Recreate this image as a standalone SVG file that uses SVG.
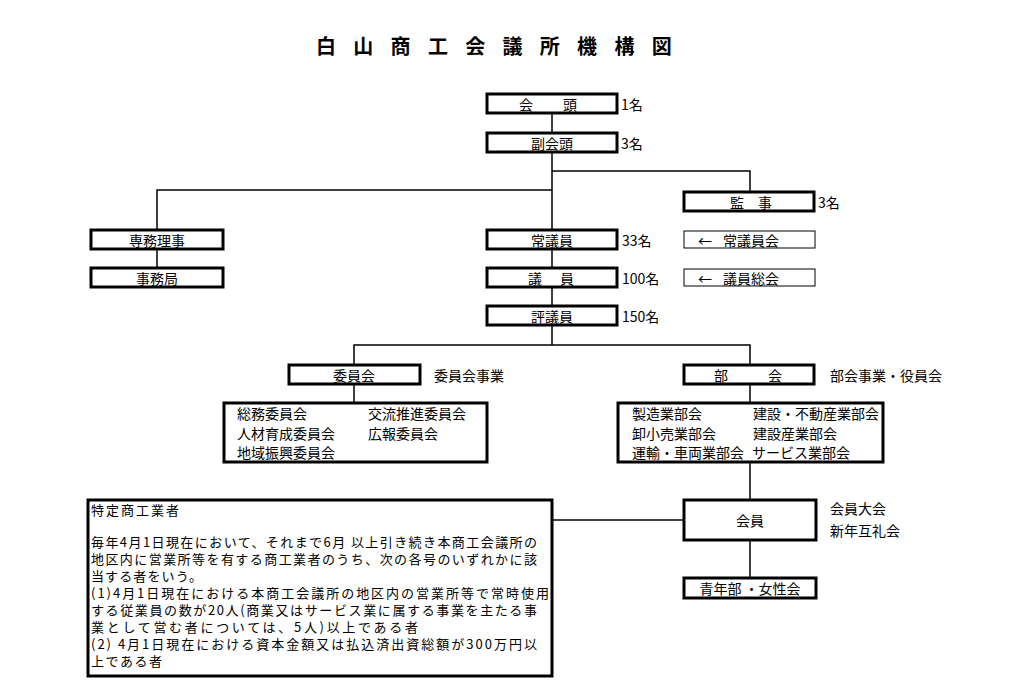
<svg xmlns="http://www.w3.org/2000/svg" width="1024" height="697" viewBox="0 0 1024 697">
<style>
text{font-family:"Noto Sans CJK JP","Noto Sans",sans-serif;font-size:14px;fill:#000;dominant-baseline:central}
.b{fill:#fff;stroke:#000;stroke-width:3}
.t{fill:#fff;stroke:#000;stroke-width:1}
.c{text-anchor:middle}
.l{fill:none;stroke:#000;stroke-width:1.5}
.title{font-size:20px;font-weight:bold;letter-spacing:17.3px}
.p{font-size:13px}
</style>
<rect width="1024" height="697" fill="#fff"/>
<text class="title" x="316" y="45">白山商工会議所機構図</text>
<g id="connectors">
<path class="l" d="M552 113V133M552 152V230M552 249V268M552 288V306M552 326V345"/>
<path class="l" d="M552 171H750V192"/>
<path class="l" d="M552 190H157V230M157 249V268"/>
<path class="l" d="M354 365V345H750V365"/>
<path class="l" d="M354 384V403M750 384V403M750 462V500M750 540V578"/>
<path class="l" d="M552 520H684"/>
</g>
<g id="kaito"><rect class="b" x="487" y="94" width="130" height="19"/><text class="c" x="552" y="104" style="letter-spacing:8px">会　頭</text><text x="621" y="104">1名</text></g>
<g id="fukukaito"><rect class="b" x="487" y="133" width="130" height="19"/><text class="c" x="552" y="143">副会頭</text><text x="621" y="143">3名</text></g>
<g id="kanji"><rect class="b" x="684" y="192" width="130" height="19"/><text class="c" x="751" y="202">監　事</text><text x="818" y="202">3名</text></g>
<g id="senmu"><rect class="b" x="91" y="230" width="132" height="19"/><text class="c" x="157" y="240">専務理事</text></g>
<g id="jimukyoku"><rect class="b" x="91" y="268" width="132" height="19"/><text class="c" x="157" y="278">事務局</text></g>
<g id="jogiin"><rect class="b" x="487" y="230" width="130" height="19"/><text class="c" x="552" y="240">常議員</text><text x="622" y="240">33名</text></g>
<g id="jogiinkai"><rect class="t" x="684" y="231" width="131" height="17"/><text x="698" y="240">←</text><text x="723" y="240">常議員会</text></g>
<g id="giin"><rect class="b" x="487" y="268" width="130" height="19"/><text class="c" x="552" y="278" style="letter-spacing:2px">議　員</text><text x="622" y="278">100名</text></g>
<g id="giinsokai"><rect class="t" x="684" y="269" width="131" height="17"/><text x="698" y="278">←</text><text x="723" y="278">議員総会</text></g>
<g id="hyogiin"><rect class="b" x="487" y="306" width="130" height="19"/><text class="c" x="552" y="316">評議員</text><text x="622" y="316">150名</text></g>
<g id="iinkai"><rect class="b" x="289" y="365" width="131" height="19"/><text class="c" x="354" y="375">委員会</text><text x="434" y="375">委員会事業</text></g>
<g id="bukai"><rect class="b" x="684" y="365" width="130" height="19"/><text class="c" x="750" y="375" style="letter-spacing:4px">部　　会</text><text x="830" y="375">部会事業・役員会</text></g>
<g id="iinkai-list"><rect class="b" x="224" y="403" width="263" height="59"/>
<text x="237" y="413">総務委員会</text><text x="368" y="413">交流推進委員会</text>
<text x="237" y="433">人材育成委員会</text><text x="368" y="433">広報委員会</text>
<text x="237" y="452">地域振興委員会</text></g>
<g id="bukai-list"><rect class="b" x="618" y="403" width="265" height="59"/>
<text x="632" y="413">製造業部会</text><text x="753" y="413">建設・不動産業部会</text>
<text x="632" y="433">卸小売業部会</text><text x="753" y="433">建設産業部会</text>
<text x="632" y="452">運輸・車両業部会</text><text x="752" y="452">サービス業部会</text></g>
<g id="kaiin"><rect class="b" x="684" y="500" width="132" height="40"/><text class="c" x="750" y="520">会員</text><text x="830" y="508">会員大会</text><text x="830" y="530">新年互礼会</text></g>
<g id="seinenbu"><rect class="b" x="684" y="578" width="132" height="20"/><text class="c" x="750" y="588">青年部 ・女性会</text></g>
<g id="tokutei"><rect class="b" x="88" y="500" width="464" height="176"/>
<text class="p" x="91" y="509" textLength="88">特定商工業者</text>
<text class="p" x="91" y="541" textLength="446">毎年4月1日現在において、それまで6月 以上引き続き本商工会議所の</text>
<text class="p" x="91" y="558" textLength="446">地区内に営業所等を有する商工業者のうち、次の各号のいずれかに該</text>
<text class="p" x="91" y="575" textLength="111">当する者をいう。</text>
<text class="p" x="91" y="592" textLength="458">(1)4月1日現在における本商工会議所の地区内の営業所等で常時使用</text>
<text class="p" x="91" y="609" textLength="446">する従業員の数が20人(商業又はサービス業に属する事業を主たる事</text>
<text class="p" x="91" y="626" textLength="327">業として営む者については、5人)以上である者</text>
<text class="p" x="91" y="643" textLength="446">(2) 4月1日現在における資本金額又は払込済出資総額が300万円以</text>
<text class="p" x="91" y="660" textLength="71">上である者</text>
</g>
</svg>
